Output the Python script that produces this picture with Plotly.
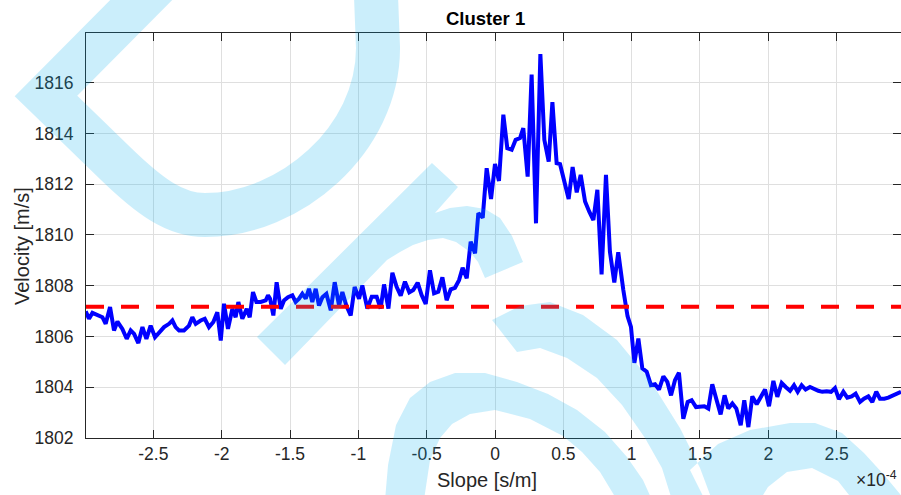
import plotly.graph_objects as go

# Slope in units of 1e-4 s/m, velocity in m/s
slope = [
    -2.995, -2.971, -2.946, -2.910, -2.873, -2.849, -2.817, -2.788, -2.763, -2.727,
    -2.695, -2.666, -2.641, -2.610, -2.580, -2.551, -2.520, -2.488, -2.459, -2.422,
    -2.385, -2.361, -2.337, -2.312, -2.276, -2.239, -2.215, -2.190, -2.154, -2.124,
    -2.093, -2.061, -2.032, -2.007, -1.983, -1.954, -1.922, -1.898, -1.878, -1.849,
    -1.817, -1.795, -1.771, -1.746, -1.715, -1.678, -1.661, -1.646, -1.622, -1.598,
    -1.568, -1.544, -1.515, -1.483, -1.459, -1.434, -1.410, -1.385, -1.361, -1.337,
    -1.312, -1.288, -1.263, -1.234, -1.202, -1.173, -1.141, -1.117, -1.088, -1.056,
    -1.027, -0.995, -0.971,
    -0.934, -0.902, -0.866, -0.837, -0.812, -0.780, -0.751, -0.720, -0.690, -0.659,
    -0.627, -0.598, -0.566, -0.537, -0.507, -0.476, -0.446, -0.415, -0.385, -0.354,
    -0.324, -0.293, -0.263, -0.237, -0.207, -0.178, -0.146, -0.122, -0.090, -0.061,
    -0.029, 0.000, 0.029, 0.061, 0.090, 0.122, 0.151, 0.183, 0.207, 0.239,
    0.268, 0.300, 0.332, 0.361, 0.393, 0.420, 0.451, 0.476, 0.507, 0.539,
    0.568, 0.598, 0.627, 0.659, 0.690, 0.720, 0.749, 0.780, 0.812, 0.841,
    0.873, 0.902,
    0.939, 0.970, 0.995, 1.020, 1.049, 1.078, 1.110, 1.141, 1.171, 1.200,
    1.232, 1.261, 1.288, 1.317, 1.346, 1.378, 1.410, 1.439, 1.471, 1.502,
    1.532, 1.561, 1.590, 1.622, 1.651, 1.680, 1.707, 1.737, 1.766, 1.798,
    1.824, 1.854, 1.883, 1.915, 1.944, 1.976, 2.005, 2.037, 2.066, 2.098,
    2.127, 2.159, 2.188, 2.215, 2.244, 2.273, 2.305, 2.337, 2.366, 2.395,
    2.427, 2.459, 2.488, 2.517, 2.549, 2.578, 2.610, 2.639, 2.671, 2.700,
    2.732, 2.761, 2.790, 2.817, 2.849, 2.878, 2.915, 2.971,
]

velocity = [
    1806.99, 1806.70, 1806.93, 1806.86, 1806.76, 1806.50, 1807.16, 1806.24, 1806.59, 1806.30,
    1805.91, 1806.24, 1806.10, 1805.74, 1806.37, 1805.91, 1806.43, 1805.97, 1806.17, 1806.37,
    1806.50, 1806.63, 1806.37, 1806.24, 1806.24, 1806.43, 1806.76, 1806.50, 1806.63, 1806.70,
    1806.37, 1806.57, 1806.96, 1805.84, 1807.29, 1806.30, 1807.09, 1806.76, 1807.36, 1806.70,
    1807.09, 1806.76, 1807.75, 1807.36, 1807.36, 1807.42, 1807.62, 1807.49, 1806.83, 1808.14,
    1807.09, 1807.42, 1807.55, 1807.62, 1807.36, 1807.49, 1807.68, 1807.49, 1807.88, 1807.36,
    1807.88, 1807.22, 1807.55, 1807.68, 1807.03, 1808.14, 1807.22, 1807.75, 1807.22, 1806.83,
    1807.95, 1807.49, 1808.01,
    1807.10, 1807.57, 1807.57, 1807.10, 1808.05, 1807.10, 1808.51, 1807.96, 1807.61, 1808.16,
    1807.74, 1807.83, 1808.12, 1807.63, 1807.28, 1808.61, 1807.70, 1807.76, 1808.33, 1807.43,
    1807.86, 1807.92, 1808.22, 1808.71, 1808.29, 1809.74, 1809.28, 1810.86, 1810.68, 1812.63,
    1811.42, 1812.80, 1812.13, 1814.74, 1813.42, 1813.36, 1813.75, 1813.82, 1814.21, 1812.30,
    1816.32, 1810.46, 1817.13, 1813.75, 1812.89, 1815.24, 1812.83, 1812.79, 1812.11, 1811.42,
    1812.68, 1811.68, 1812.37, 1811.32, 1810.92, 1810.59, 1811.78, 1808.45, 1812.37, 1809.34,
    1808.13, 1809.32,
    1807.83, 1806.80, 1806.38, 1804.96, 1805.92, 1804.74, 1804.61, 1804.08, 1804.12, 1803.91,
    1804.43, 1804.21, 1803.68, 1804.28, 1804.57, 1802.76, 1803.42, 1803.49, 1803.22, 1803.25,
    1803.25, 1803.16, 1804.12, 1803.49, 1802.93, 1803.68, 1803.16, 1803.36, 1803.16, 1802.50,
    1803.49, 1802.43, 1803.64, 1803.33, 1803.64, 1803.91, 1803.25, 1804.25, 1803.62, 1804.17,
    1804.01, 1803.86, 1804.08, 1803.82, 1804.08, 1803.91, 1804.01, 1803.91, 1803.86, 1803.82,
    1803.84, 1803.82, 1803.97, 1803.53, 1803.82, 1803.59, 1803.64, 1803.75, 1803.42, 1803.55,
    1803.64, 1803.42, 1803.82, 1803.55, 1803.55, 1803.59, 1803.68, 1803.82,
]

mean_velocity = 1807.17

x_range = [-2.993, 2.971]
y_range = [1802, 1817.96]
x_ticks = [-2.5, -2, -1.5, -1, -0.5, 0, 0.5, 1, 1.5, 2, 2.5]
x_tick_labels = ["-2.5", "-2", "-1.5", "-1", "-0.5", "0", "0.5", "1", "1.5", "2", "2.5"]
y_ticks = [1802, 1804, 1806, 1808, 1810, 1812, 1814, 1816]
y_tick_labels = ["1802", "1804", "1806", "1808", "1810", "1812", "1814", "1816"]

W, H = 901, 495
ML, MR, MT, MB = 86, 0, 33, 57
PW, PH = W - ML - MR, H - MT - MB

AXIS_COLOR = "#262626"
FONT = "Liberation Sans, Arial, Helvetica, sans-serif"


def px(x, y):
    """Convert a page pixel position to paper coordinates."""
    return (x - ML) / PW, (MT + PH - y) / PH


def poly_path(points):
    pts = [px(x, y) for x, y in points]
    # make all outlines wind the same way so overlaps fill as a union
    area = sum(pts[i][0] * pts[(i + 1) % len(pts)][1] - pts[(i + 1) % len(pts)][0] * pts[i][1]
               for i in range(len(pts)))
    if area < 0:
        pts = pts[::-1]
    s = "M %.4f,%.4f " % pts[0]
    s += " ".join("L %.4f,%.4f" % p for p in pts[1:])
    return s + " Z"


def curve_path(cmds):
    out = []
    for c, coords in cmds:
        conv = [px(x, y) for x, y in coords]
        out.append(c + " " + " ".join("%.4f,%.4f" % p for p in conv))
    return " ".join(out)


fig = go.Figure()
fig.add_trace(go.Scatter(
    x=slope, y=velocity, mode="lines",
    line=dict(color="#0000ff", width=4), hoverinfo="skip",
))
fig.add_trace(go.Scatter(
    x=x_range, y=[mean_velocity, mean_velocity], mode="lines",
    line=dict(color="#ff0000", width=4, dash="18px,17px"), hoverinfo="skip",
))

# light watermark strokes laid over the axes
WM = "#00aeef"
WM_OP = 0.2
shapes = []
shapes.append(dict(
    type="path", xref="paper", yref="paper", layer="above",
    path=curve_path([
        ("M", [(171, -30)]),
        ("L", [(46, 96)]),
        ("L", [(115, 163)]),
        ("C", [(150, 197), (175, 215), (205, 215)]),
        ("C", [(290, 215), (378, 140), (378, 48)]),
        ("L", [(375, -30)]),
    ]),
    line=dict(color=WM, width=44), fillcolor="rgba(0,0,0,0)", opacity=WM_OP,
))

glyphs = [
    [(257, 337), (432, 163), (458, 187), (435, 213), (450, 208), (467, 206), (485, 209),
     (500, 218), (512, 236), (523, 262), (485, 278), (478, 262), (470, 252), (456, 242),
     (443, 238), (428, 240), (413, 245), (400, 252), (387, 260), (285, 365)],
    [(385, 500), (388, 465), (396, 425), (410, 398), (430, 382), (455, 373), (485, 373),
     (517, 382), (548, 394), (577, 410), (605, 432), (627, 457), (643, 480), (652, 500),
     (617, 500), (600, 472), (582, 452), (563, 436), (530, 419), (495, 410), (470, 414),
     (452, 424), (440, 438), (430, 460), (424, 500)],
    [(492, 320), (520, 306), (550, 302), (583, 315), (617, 340), (650, 380), (680, 428),
     (700, 468), (712, 500), (672, 500), (662, 468), (645, 438), (622, 405), (597, 378),
     (567, 358), (540, 348), (517, 352)],
    [(690, 470), (718, 444), (750, 430), (790, 423), (815, 423), (842, 433), (864, 453),
     (885, 476), (905, 500), (853, 500), (838, 481), (812, 468), (787, 472), (768, 487),
     (760, 500), (705, 500)],
]
shapes.append(dict(
    type="path", xref="paper", yref="paper", layer="above",
    path=" ".join(poly_path(g) for g in glyphs),
    fillcolor=WM, line=dict(width=0), opacity=WM_OP,
))

annotations = [
    dict(text="<b>Cluster 1</b>", x=px(485, 0)[0], y=px(0, 18)[1], xref="paper", yref="paper",
         xanchor="center", yanchor="middle", showarrow=False,
         font=dict(family=FONT, size=18.5, color="#000000")),
    dict(text="Slope [s/m]", x=px(487, 0)[0], y=px(0, 480)[1], xref="paper", yref="paper",
         xanchor="center", yanchor="middle", showarrow=False,
         font=dict(family=FONT, size=20, color=AXIS_COLOR)),
    dict(text="Velocity [m/s]", x=px(22, 0)[0], y=px(0, 246)[1], xref="paper", yref="paper",
         xanchor="center", yanchor="middle", textangle=-90, showarrow=False,
         font=dict(family=FONT, size=20, color=AXIS_COLOR)),
    dict(text="×10<sup>-4</sup>", x=px(899, 0)[0], y=px(0, 479)[1], xref="paper", yref="paper",
         xanchor="right", yanchor="middle", showarrow=False,
         font=dict(family=FONT, size=17.5, color=AXIS_COLOR)),
]

axis_common = dict(
    ticks="inside", ticklen=8, tickwidth=1, tickcolor=AXIS_COLOR,
    showline=True, linecolor=AXIS_COLOR, linewidth=1, mirror="ticks",
    showgrid=True, gridcolor="#dfdfdf", gridwidth=1, zeroline=False,
    tickfont=dict(family=FONT, size=17.5, color=AXIS_COLOR),
)

fig.update_layout(
    width=W, height=H,
    margin=dict(l=ML, r=MR, t=MT, b=MB, pad=0),
    plot_bgcolor="white", paper_bgcolor="white",
    showlegend=False,
    font=dict(family=FONT, color=AXIS_COLOR),
    xaxis=dict(range=x_range, tickmode="array", tickvals=x_ticks, ticktext=x_tick_labels,
               ticklabelstandoff=0, **axis_common),
    yaxis=dict(range=y_range, tickmode="array", tickvals=y_ticks, ticktext=y_tick_labels,
               ticklabelstandoff=8, **axis_common),
    shapes=shapes,
    annotations=annotations,
)

fig.write_html("out.html")
